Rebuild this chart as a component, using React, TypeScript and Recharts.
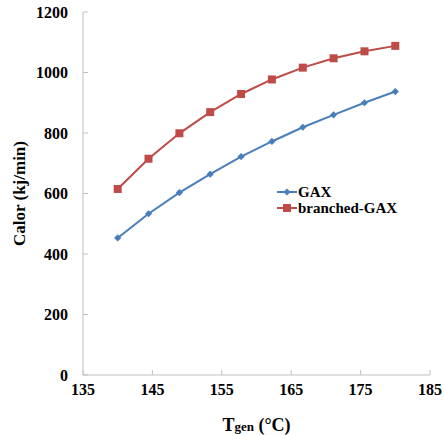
import { LineChart, Line, XAxis, YAxis, Legend } from "recharts";

const temps = [140, 144.44, 148.89, 153.33, 157.78, 162.22, 166.67, 171.11, 175.56, 180];
const gax = [453, 533, 603, 664, 722, 772, 819, 860, 900, 937];
const branchedGax = [615, 715, 799, 869, 929, 977, 1016, 1047, 1070, 1088];
const xTicks = [135, 145, 155, 165, 175, 185];
const yTicks = [0, 200, 400, 600, 800, 1000, 1200];

const data = temps.map((t, i) => ({ t, gax: gax[i], branched: branchedGax[i] }));

const BLUE = "#4a7ebb";
const RED = "#be4b48";
const FONT = "'Times New Roman', 'Liberation Serif', serif";

function Diamond(props: any) {
  const { cx, cy, index } = props;
  const s = 3.6;
  return (
    <polygon
      key={"d" + index}
      points={`${cx},${cy - s} ${cx + s},${cy} ${cx},${cy + s} ${cx - s},${cy}`}
      fill={BLUE}
    />
  );
}

function Square(props: any) {
  const { cx, cy, index } = props;
  return <rect key={"s" + index} x={cx - 4} y={cy - 4} width={8} height={8} fill={RED} />;
}

function LegendBox() {
  const rows = [
    { name: "GAX", color: BLUE, square: false },
    { name: "branched-GAX", color: RED, square: true },
  ];
  return (
    <svg width={160} height={36}>
      {rows.map((r, i) => {
        const y = 8 + i * 16;
        return (
          <g key={r.name}>
            <line x1={1} x2={21} y1={y} y2={y} stroke={r.color} strokeWidth={2} />
            {r.square ? (
              <rect x={7} y={y - 4} width={8} height={8} fill={r.color} />
            ) : (
              <polygon points={`11,${y - 3.6} 14.6,${y} 11,${y + 3.6} 7.4,${y}`} fill={r.color} />
            )}
            <text x={22} y={y + 5} fontFamily={FONT} fontWeight="bold" fontSize={15} fill="#000">
              {r.name}
            </text>
          </g>
        );
      })}
    </svg>
  );
}

function XLabel(props: any) {
  const { viewBox } = props;
  const cx = viewBox.x + viewBox.width / 2;
  return (
    <text x={cx} y={431} textAnchor="middle" fontFamily={FONT} fontWeight="bold" fill="#000">
      <tspan fontSize={18}>T</tspan>
      <tspan fontSize={13}>gen</tspan>
      <tspan fontSize={18}> (°C)</tspan>
    </text>
  );
}

export default function App() {
  const tickStyle = { fontFamily: FONT, fontWeight: "bold", fontSize: 16, fill: "#000" };
  return (
    <div style={{ position: "absolute", left: 0, top: 0, background: "#fff" }}>
      <LineChart width={444} height={435} data={data} margin={{ top: 12, right: 14, bottom: 0, left: 0 }}>
        <XAxis
          dataKey="t"
          type="number"
          domain={[135, 185]}
          ticks={xTicks}
          allowDataOverflow
          height={60}
          stroke="#bfbfbf"
          tickSize={-5}
          tickMargin={14}
          tick={tickStyle}
          interval={0}
          label={<XLabel />}
        />
        <YAxis
          type="number"
          domain={[0, 1200]}
          ticks={yTicks}
          width={83}
          stroke="#bfbfbf"
          tickSize={-5}
          tickMargin={20}
          tick={tickStyle}
          interval={0}
          label={{
            value: "Calor (kj/min)",
            angle: -90,
            position: "insideLeft",
            offset: 19,
            style: { fontFamily: FONT, fontWeight: "bold", fontSize: 17, fill: "#000", textAnchor: "middle" },
          }}
        />
        <Legend
          layout="vertical"
          align="center"
          verticalAlign="middle"
          content={<LegendBox />}
          wrapperStyle={{ position: "absolute", left: 276, top: 184, width: 160 }}
        />
        <Line
          dataKey="gax"
          name="GAX"
          stroke={BLUE}
          strokeWidth={2}
          dot={Diamond}
          activeDot={false}
          isAnimationActive={false}
        />
        <Line
          dataKey="branched"
          name="branched-GAX"
          stroke={RED}
          strokeWidth={2}
          dot={Square}
          activeDot={false}
          isAnimationActive={false}
        />
      </LineChart>
    </div>
  );
}
